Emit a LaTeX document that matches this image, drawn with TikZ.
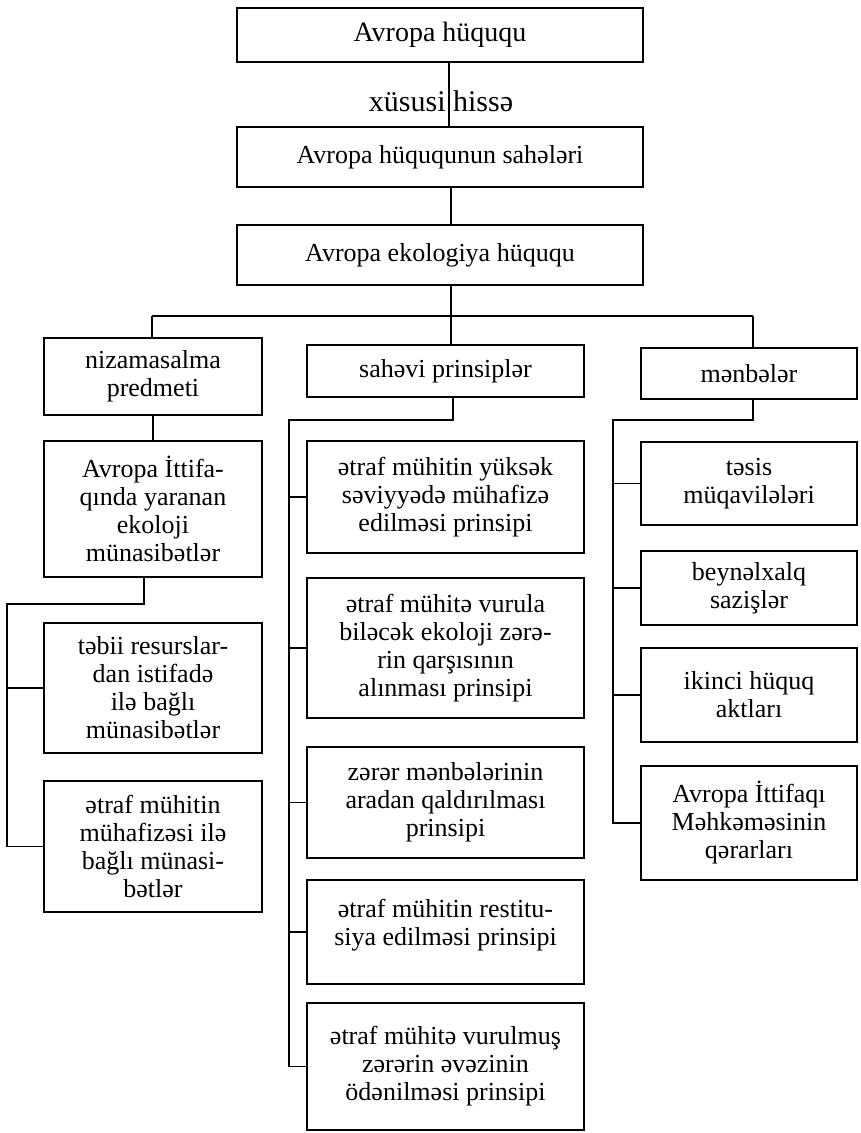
\documentclass[tikz,border=0pt]{standalone}
\usepackage{fontspec}
\setmainfont{Liberation Serif}
\begin{document}
\begin{tikzpicture}[x=1pt,y=-1pt,
  box/.style={draw, line width=1.7pt, align=center, inner sep=2pt,
    font=\fontsize{26}{28}\selectfont},
  link/.style={line width=1.7pt},
  lbl/.style={inner sep=0pt, font=\fontsize{30}{32}\selectfont}]
\useasboundingbox (0,0) rectangle (860,1133);

% top chain
\node[box, minimum width=406, minimum height=54, font=\fontsize{28}{30}\selectfont] (A) at (440,35) {Avropa hüququ};
\node[box, minimum width=406, minimum height=60] (B) at (440,157) {Avropa hüququnun sahələri};
\node[box, minimum width=406, minimum height=60] (C) at (440,255) {Avropa ekologiya hüququ};
\node[lbl] (xh) at (441,101) {xüsusi hissə};

% left column
\node[box, minimum width=218, minimum height=77] (N1) at (153,376.5) {nizamasalma\\predmeti};
\node[box, minimum width=218, minimum height=136] (N2) at (153,509) {Avropa İttifa-\\qında yaranan\\ekoloji\\münasibətlər};
\node[box, minimum width=218, minimum height=130] (N3) at (153,688) {təbii resurslar-\\dan istifadə\\ilə bağlı\\münasibətlər};
\node[box, minimum width=218, minimum height=131] (N4) at (153,846.5) {ətraf mühitin\\mühafizəsi ilə\\bağlı münasi-\\bətlər};

% middle column
\node[box, minimum width=277, minimum height=52] (M0) at (445.5,371) {sahəvi prinsiplər};
\node[box, minimum width=277, minimum height=112] (M1) at (445.5,497) {ətraf mühitin yüksək\\səviyyədə mühafizə\\edilməsi prinsipi};
\node[box, minimum width=277, minimum height=140] (M2) at (445.5,648) {ətraf mühitə vurula\\biləcək ekoloji zərə-\\rin qarşısının\\alınması prinsipi};
\node[box, minimum width=277, minimum height=111] (M3) at (445.5,802.5) {zərər mənbələrinin\\aradan qaldırılması\\prinsipi};
\node[box, minimum width=277, minimum height=104] (M4) at (445.5,932) {ətraf mühitin restitu-\\siya edilməsi prinsipi\\[-8pt]\mbox{}};
\node[box, minimum width=277, minimum height=127] (M5) at (445.5,1066.5) {ətraf mühitə vurulmuş\\zərərin əvəzinin\\ödənilməsi prinsipi};

% right column
\node[box, minimum width=216, minimum height=51] (R0) at (749,373.5) {mənbələr};
\node[box, minimum width=216, minimum height=83] (R1) at (749,483.5) {təsis\\müqavilələri};
\node[box, minimum width=216, minimum height=74] (R2) at (749,588) {beynəlxalq\\sazişlər};
\node[box, minimum width=216, minimum height=94] (R3) at (749,695) {ikinci hüquq\\aktları};
\node[box, minimum width=216, minimum height=114] (R4) at (749,823) {Avropa İttifaqı\\Məhkəməsinin\\qərarları};

% top connectors
\draw[link] ([xshift=9pt]A.south) -- ([xshift=9pt]B.north);
\draw[link] ([xshift=11pt]B.south) -- ([xshift=11pt]C.north);

% main bus
\coordinate (busL) at (152,316);
\coordinate (busR) at (753,316);
\draw[link] (busL) -- (busR);
\draw[link] ([xshift=11pt]C.south) -- ([xshift=5.5pt]M0.north);
\draw[link] (busL) -- (busL |- N1.north);
\draw[link] (busR) -- (busR |- R0.north);

% left branch
\draw[link] (N1.south) -- (N2.north);
\coordinate (lb) at (144,604);
\coordinate (lx) at (7,604);
\draw[link] ([xshift=-9pt]N2.south) -- (lb) -- (lx) -- (lx |- N4.west) -- (N4.west);
\draw[link] (lx |- N3.west) -- (N3.west);

% middle branch
\coordinate (mb) at (453,420);
\coordinate (mx) at (289,420);
\draw[link] ([xshift=7.5pt]M0.south) -- (mb) -- (mx) -- (mx |- M5.west) -- (M5.west);
\foreach \n in {M1,M2,M3,M4}
  \draw[link] (mx |- \n.west) -- (\n.west);

% right branch
\coordinate (rb) at (753,420);
\coordinate (rx) at (613,420);
\draw[link] ([xshift=4pt]R0.south) -- (rb) -- (rx) -- (rx |- R4.west) -- (R4.west);
\foreach \n in {R1,R2,R3}
  \draw[link] (rx |- \n.west) -- (\n.west);
\end{tikzpicture}
\end{document}
